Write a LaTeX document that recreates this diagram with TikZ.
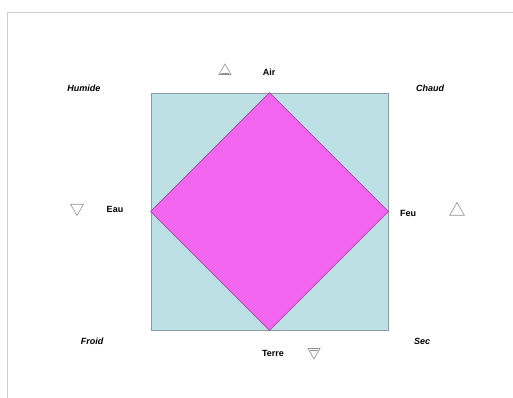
\documentclass[tikz,border=0pt]{standalone}
\usepackage{fontspec}
\setmainfont{Liberation Sans}
\usetikzlibrary{shapes.geometric}
\definecolor{frame}{HTML}{CFCFCF}
\definecolor{sqfill}{HTML}{BCE0E3}
\definecolor{sqline}{HTML}{8C9C9C}
\definecolor{dmfill}{HTML}{F266F0}
\definecolor{dmline}{HTML}{A848A8}
\definecolor{symb}{HTML}{909090}
\begin{document}
\begin{tikzpicture}[x=1pt,y=-1pt]
\tikzstyle{elem}=[font=\fontsize{9}{10}\selectfont\bfseries, inner sep=1pt]
\tikzstyle{qual}=[font=\fontsize{9}{10}\selectfont\bfseries\itshape, inner sep=1pt]
\tikzstyle{up}=[draw=symb, regular polygon, regular polygon sides=3, minimum size=15pt, inner sep=0pt, line width=0.6pt]
\tikzstyle{down}=[up, shape border rotate=180]
    \useasboundingbox (0,0) rectangle (513,398);
    \draw[frame, line width=1.5pt] (7.5,398) -- (7.5,12.5) -- (513,12.5);

    \node[draw=sqline, fill=sqfill, minimum size=237pt, inner sep=0pt, line width=0.8pt] (sq) at (269.5,211.5) {};
    \draw[draw=dmline, fill=dmfill, line width=0.6pt] (sq.north) -- (sq.east) -- (sq.south) -- (sq.west) -- cycle;

    \node[elem] (air) at (269,72) {Air};
    \node[elem] (eau) at (115,209) {Eau};
    \node[elem] (feu) at (408,213) {Feu};
    \node[elem] (terre) at (273,353) {Terre};

    \node[qual] (humide) at (84,88) {Humide};
    \node[qual] (chaud) at (430,88) {Chaud};
    \node[qual] (froid) at (92,341) {Froid};
    \node[qual] (sec) at (422,341) {Sec};

    \node[up, minimum size=14pt] (sair) at (225,71) {};
    \draw[symb, line width=0.6pt] ([xshift=-4pt,yshift=-2pt]sair.center) -- ([xshift=4pt,yshift=-2pt]sair.center);
    \node[down] (seau) at (77,208) {};
    \node[up, minimum size=17pt] (sfeu) at (457,211) {};
    \node[down, minimum size=14pt] (sterre) at (314,352) {};
    \draw[symb, line width=0.6pt] ([xshift=-4pt,yshift=2pt]sterre.center) -- ([xshift=4pt,yshift=2pt]sterre.center);
\end{tikzpicture}
\end{document}
